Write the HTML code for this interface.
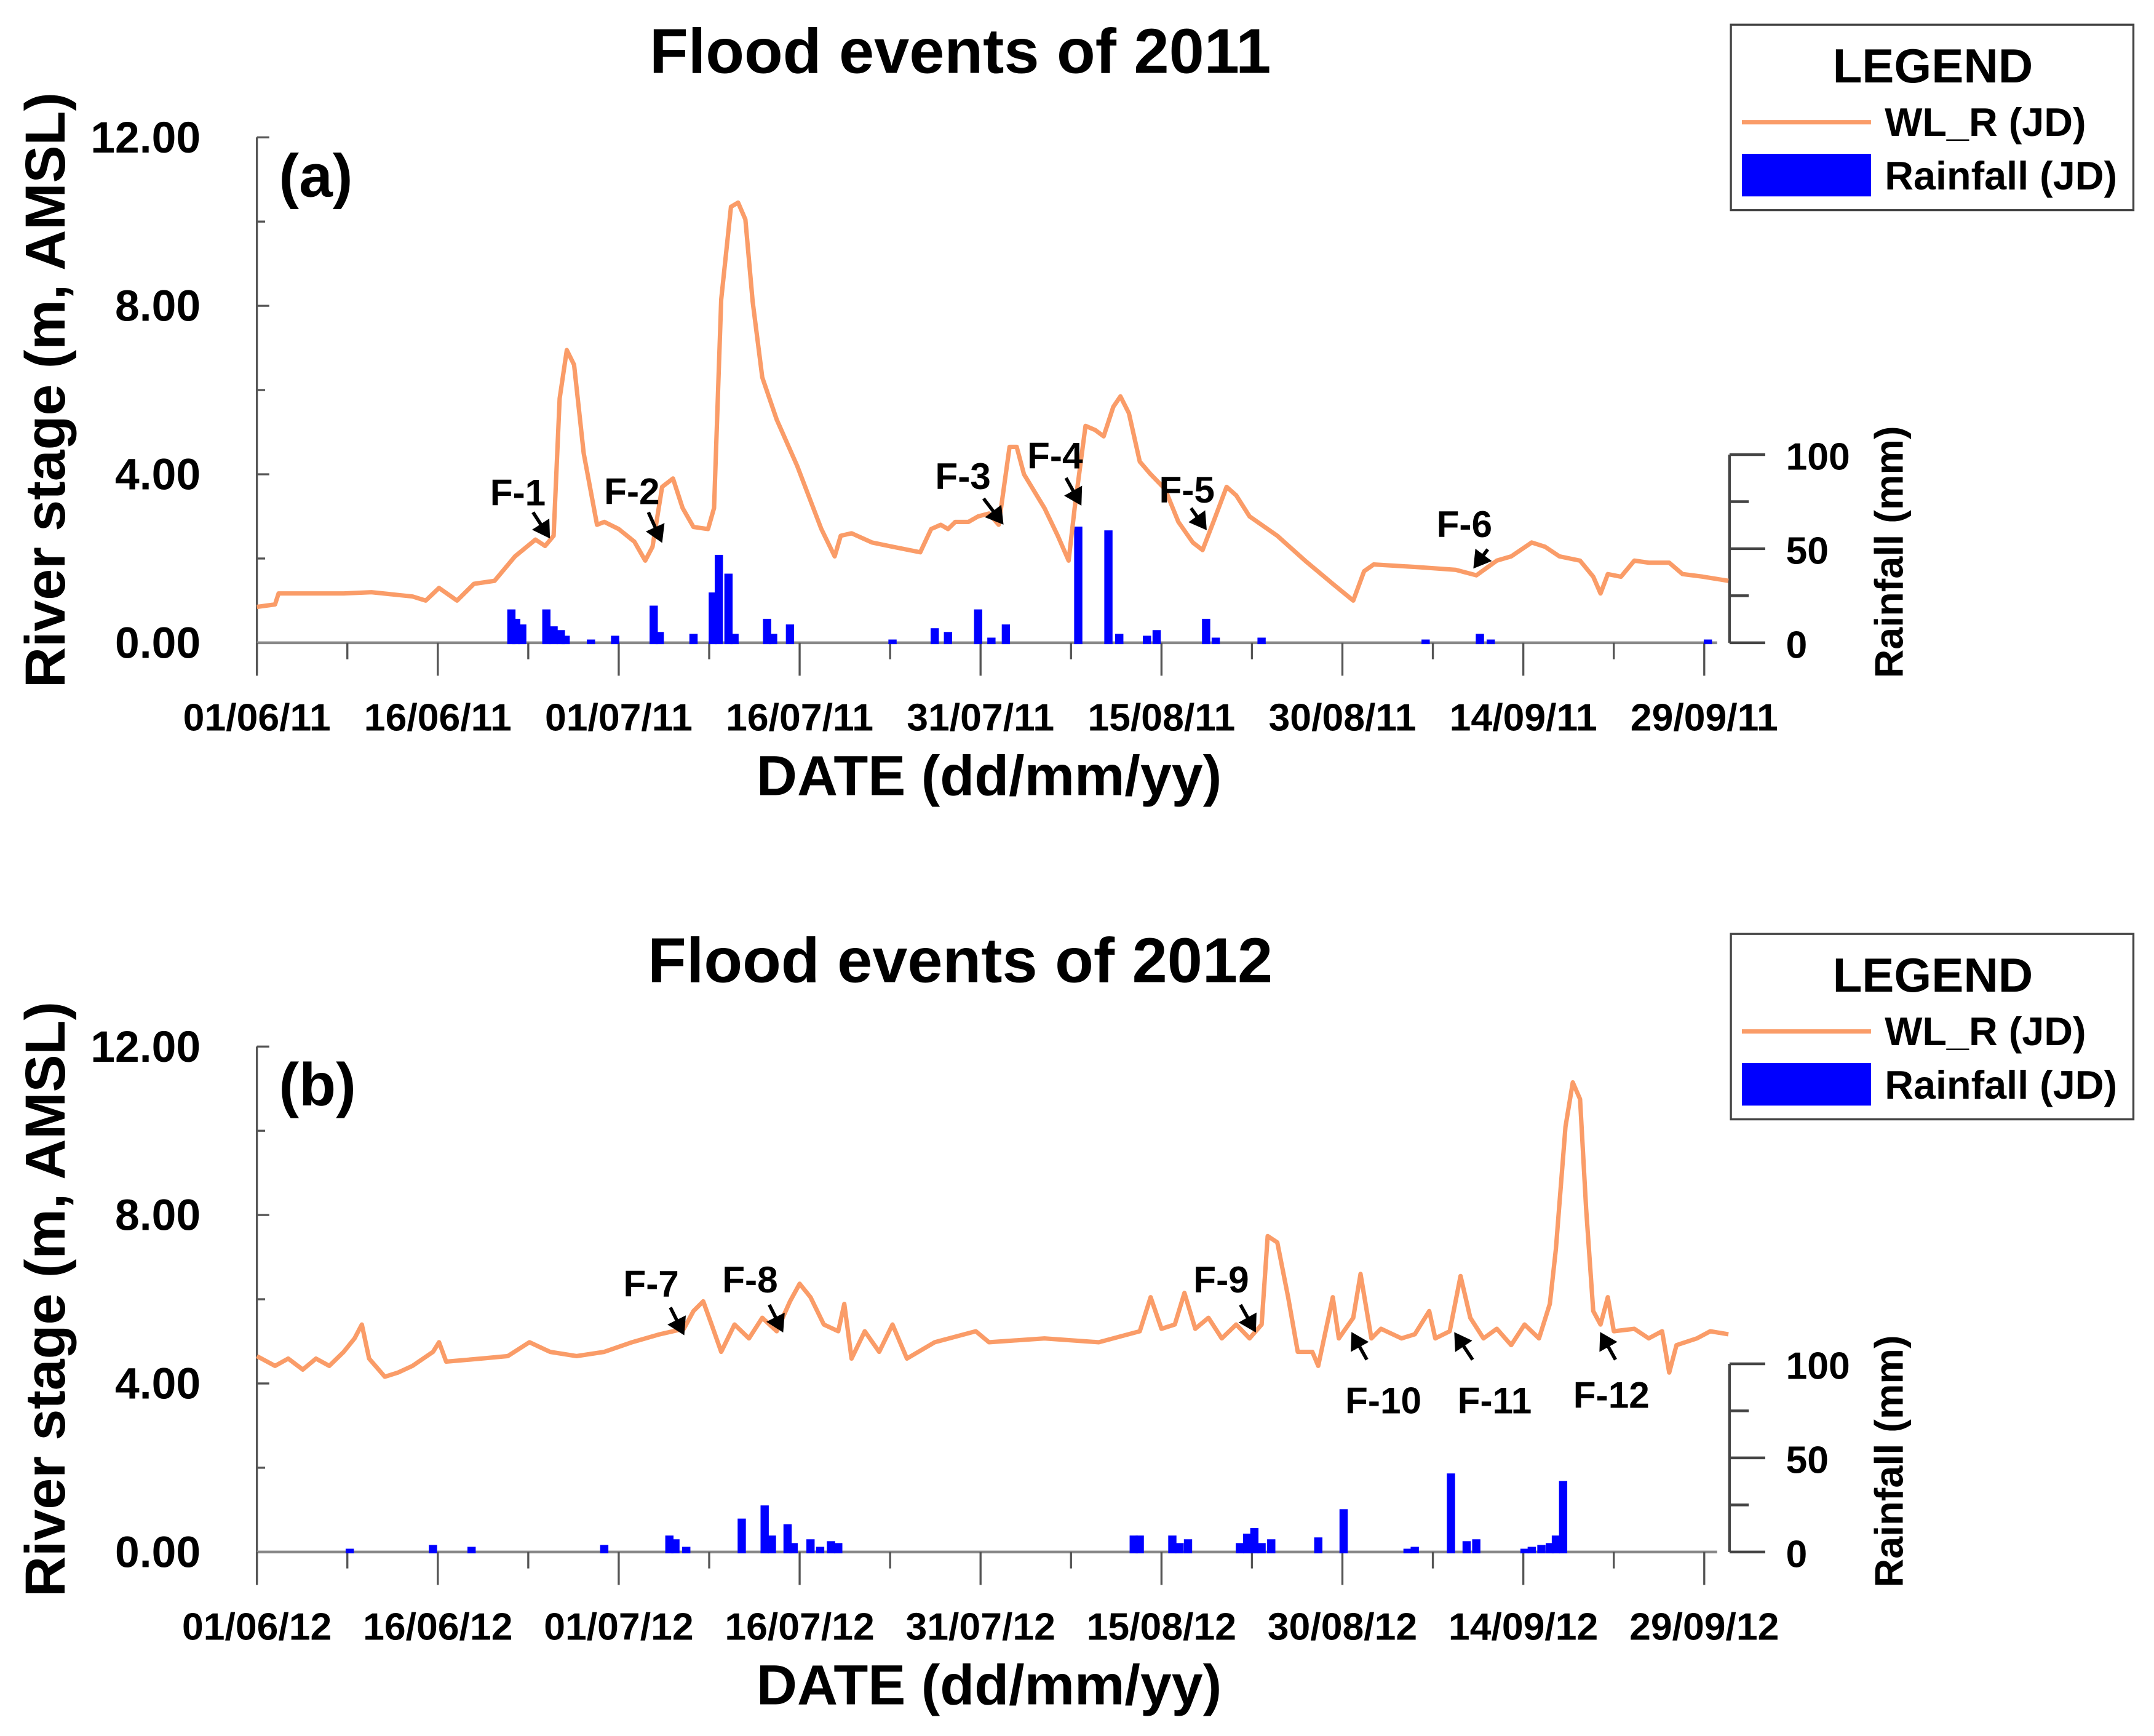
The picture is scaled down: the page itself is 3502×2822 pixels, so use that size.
<!DOCTYPE html>
<html><head><meta charset="utf-8"><style>
html,body{margin:0;padding:0;background:#fff}
svg{display:block}
text{font-family:"Liberation Sans",Arial,sans-serif;font-weight:bold;fill:#000}
</style></head><body>
<svg id="chart" xmlns="http://www.w3.org/2000/svg" width="3502" height="2822" viewBox="0 0 1568 1264" preserveAspectRatio="none"></svg>
<script>
// ---- data (day index from 1 June, value) ----
const dateLabels2011 = ["01/06/11","16/06/11","01/07/11","16/07/11","31/07/11","15/08/11","30/08/11","14/09/11","29/09/11"];
const dateLabels2012 = ["01/06/12","16/06/12","01/07/12","16/07/12","31/07/12","15/08/12","30/08/12","14/09/12","29/09/12"];
const stageTicks = ["0.00","4.00","8.00","12.00"];
const rainTicks = ["0","50","100"];

const wlDaysA = [0,1.5,1.8,7.2,9.5,12.9,14.0,15.1,16.6,18.0,19.7,21.4,23.1,23.9,24.6,25.1,25.7,26.3,27.1,28.2,28.8,30.0,31.3,32.2,32.8,33.6,34.5,35.3,36.2,37.4,37.9,38.5,39.3,39.9,40.5,41.1,41.9,43.1,44.8,46.8,47.9,48.4,49.3,51.0,52.7,55.0,55.9,56.7,57.3,57.9,59.0,59.8,60.7,61.5,62.4,63.0,63.6,65.3,66.4,67.3,67.8,68.7,69.5,70.2,71.0,71.6,72.3,73.2,74.1,75.3,76.4,77.6,78.4,79.3,80.4,81.2,82.3,84.6,86.9,89.2,90.9,91.8,92.6,96.0,99.4,101.1,102.8,104.0,105.7,106.8,108.0,109.7,110.8,111.4,112.0,113.1,114.2,115.4,117.1,118.2,119.9,122.0];
const wlValsA = [0.85,0.91,1.17,1.17,1.2,1.1,1.0,1.3,1.0,1.4,1.47,2.05,2.45,2.3,2.54,5.8,6.95,6.6,4.5,2.8,2.87,2.7,2.4,1.95,2.28,3.7,3.9,3.2,2.75,2.7,3.2,8.15,10.35,10.45,10.05,8.1,6.3,5.3,4.2,2.7,2.05,2.54,2.6,2.38,2.28,2.15,2.7,2.8,2.7,2.87,2.87,3.0,3.07,2.8,4.65,4.65,4.0,3.2,2.54,1.95,3.2,5.15,5.05,4.9,5.6,5.85,5.45,4.3,4.0,3.65,2.87,2.38,2.2,2.87,3.7,3.5,3.0,2.54,1.95,1.4,1.0,1.7,1.86,1.8,1.73,1.6,1.95,2.05,2.38,2.28,2.05,1.95,1.57,1.17,1.63,1.57,1.95,1.9,1.9,1.63,1.57,1.47];
const rainDaysA = [21.1,21.5,22.0,24.0,24.6,25.2,25.6,27.7,29.7,32.9,33.4,36.2,37.8,38.3,39.1,39.6,42.3,42.8,44.2,52.7,56.2,57.3,59.8,60.9,62.1,68.1,70.6,71.5,73.8,74.6,78.7,79.5,83.3,96.9,101.4,102.3,120.3];
const rainValsA = [17,12,9,17,8,6,3,1,3,19,5,4,26,46,36,4,12,4,9,1,7,5,17,2,9,61,59,4,3,6,12,2,2,1,4,1,1];

const wlDaysB = [0,1.5,2.6,3.8,4.9,6.0,7.2,8.1,8.7,9.3,10.6,11.7,12.9,14.6,15.1,15.7,18.6,20.8,22.6,24.3,26.5,28.8,31.1,33.4,35.4,36.2,37.0,37.7,38.5,39.6,40.8,41.9,43.1,44.2,45.0,45.9,47.0,48.2,48.7,49.3,50.4,51.6,52.7,53.9,56.2,59.6,60.7,65.3,69.8,73.2,74.1,75.0,76.1,76.9,77.8,78.9,80.0,81.2,82.3,83.3,83.8,84.6,85.5,86.3,87.5,88.0,89.2,89.7,90.9,91.5,92.4,93.2,94.9,96.0,97.2,97.7,98.9,99.8,100.6,101.7,102.8,104.0,105.1,106.3,107.2,107.7,108.5,109.1,109.7,110.2,110.8,111.4,112.0,112.5,114.2,115.4,116.5,117.1,117.7,119.4,120.5,122.0];
const wlValsB = [4.65,4.42,4.59,4.33,4.59,4.42,4.75,5.07,5.4,4.59,4.16,4.26,4.42,4.75,4.98,4.52,4.59,4.65,4.98,4.75,4.65,4.75,4.98,5.17,5.3,5.72,5.95,5.4,4.75,5.4,5.07,5.56,5.24,5.95,6.37,6.05,5.4,5.24,5.89,4.59,5.24,4.75,5.4,4.59,4.98,5.24,4.98,5.07,4.98,5.24,6.05,5.3,5.4,6.15,5.3,5.56,5.07,5.4,5.07,5.4,7.5,7.35,6.05,4.75,4.75,4.42,6.05,5.07,5.56,6.6,5.07,5.3,5.07,5.17,5.72,5.07,5.24,6.55,5.56,5.07,5.3,4.91,5.4,5.07,5.89,7.19,10.1,11.15,10.75,8.16,5.72,5.4,6.05,5.24,5.3,5.07,5.24,4.26,4.91,5.07,5.24,5.17];
const rainDaysB = [7.7,14.6,17.8,28.8,34.2,34.7,35.6,40.2,42.1,42.7,44.0,44.5,45.9,46.7,47.6,48.2,72.7,73.2,75.9,76.5,77.2,81.5,82.1,82.7,83.3,84.1,88.0,90.1,95.4,96.0,99.0,100.3,101.1,105.1,105.7,106.5,107.2,107.7,108.3];
const rainValsB = [1,3,2,3,8,6,2,17,24,8,14,4,6,2,5,4,8,8,8,4,6,4,9,12,4,6,7,22,1,2,41,5,6,1,2,3,4,8,37];

const eventsA = [["F-1",377,358,388,373,399,390],["F-2",460,357,472,373,481,393],["F-3",701,346,716,363,729,380],["F-4",768,331,776,348,786,366],["F-5",864,356,867,370,877,384],["F-6",1066,381,1083,400,1074,412]];
const eventsB = [["F-7",474,272,488,290,497,308],["F-8",546,269,560,288,569,306],["F-9",889,269,903,288,913,306],["F-10",1007,357,995,328,985,310],["F-11",1088,357,1072,328,1060,310],["F-12",1173,353,1176,328,1166,310]];

const NS="http://www.w3.org/2000/svg";
const svg=document.getElementById('chart');
const defs=document.createElementNS(NS,'defs');
defs.innerHTML='<marker id="ah" markerWidth="6" markerHeight="6" refX="4" refY="3" orient="auto" markerUnits="strokeWidth"><path d="M0,0 L5,3 L0,6 z" fill="#000"/></marker>';
svg.appendChild(defs);
function mk(tag,attrs,parent,txt){const e=document.createElementNS(NS,tag);for(const k in attrs)e.setAttribute(k,attrs[k]);if(txt!==undefined)e.textContent=txt;(parent||svg).appendChild(e);return e;}

function panel(off,title,letter,dates,wlD,wlV,rD,rV,events,tag){
  const g=mk('g',{});
  
  
  const X0=187,PX=8.78,Y0=468+off,Y12=100+off;
  const xs=d=>X0+d*PX;
  const ys=v=>Y0-(Y0-Y12)*v/12;
  const R100=331+off;
  const yr=v=>Y0-(Y0-R100)*v/100;
  const XR=1259;
  let t=mk('text',{x:699,y:53+off,'font-size':46,'text-anchor':'middle'},g,title);
  
  
  t=mk('text',{x:203,y:143+off,'font-size':44},g,letter);
  
  
  // left axis
  let a=mk('line',{x1:X0,y1:Y12,x2:X0,y2:Y0+22,stroke:'#555','stroke-width':1.5},g);
  
  
  for(let v=0;v<=12;v+=2){
    const major=v%4===0;
    mk('line',{x1:X0,y1:ys(v),x2:X0+(major?9:6),y2:ys(v),stroke:'#555','stroke-width':1.5},g);
  }
  stageTicks.forEach(s=>{
    const l=mk('text',{x:146,y:ys(parseFloat(s))+11,'font-size':32,'text-anchor':'end'},g,s);
    
    
  });
  const yt=mk('text',{transform:`translate(47,${284+off}) rotate(-90)`,'font-size':41,'text-anchor':'middle'},g,'River stage (m, AMSL)');
  
  
  // x axis
  a=mk('line',{x1:X0,y1:Y0,x2:1250,y2:Y0,stroke:'#888','stroke-width':2},g);
  
  
  for(let d=0;d<=120;d+=7.5){
    const major=(d%15===0);
    mk('line',{x1:xs(d),y1:Y0,x2:xs(d),y2:Y0+(major?24:12),stroke:'#555','stroke-width':1.5},g);
  }
  dates.forEach((s,i)=>{
    const l=mk('text',{x:xs(i*15),y:532+off,'font-size':28,'text-anchor':'middle'},g,s);
    
    
  });
  const xt=mk('text',{x:720,y:579+off,'font-size':41,'text-anchor':'middle'},g,'DATE (dd/mm/yy)');
  
  
  // right axis
  a=mk('line',{x1:XR,y1:R100,x2:XR,y2:Y0,stroke:'#444','stroke-width':2},g);
  
  
  for(let v=0;v<=100;v+=25){
    const major=v%50===0;
    mk('line',{x1:XR,y1:yr(v),x2:XR+(major?26:14),y2:yr(v),stroke:'#444','stroke-width':2},g);
  }
  rainTicks.forEach(s=>{
    const l=mk('text',{x:1300,y:yr(parseFloat(s))+11,'font-size':28},g,s);
    
    
  });
  const rt=mk('text',{transform:`translate(1385,${402+off}) rotate(-90)`,'font-size':29,'text-anchor':'middle'},g,'Rainfall (mm)');
  
  
  // rainfall bars
  rD.forEach((d,i)=>{
    const h=Y0-yr(rV[i]);
    const b=mk('rect',{x:xs(d)-3,y:yr(rV[i])-1,width:6,height:h+2,fill:'#0000ff'},g);
    
    
  });
  // water level line
  const pts=wlD.map((d,i)=>xs(d).toFixed(1)+','+ys(wlV[i]).toFixed(1)).join(' ');
  const ln=mk('polyline',{points:pts,fill:'none',stroke:'#fa9c68','stroke-width':3.2,'stroke-linejoin':'round'},g);
  
  
  // events
  events.forEach(e=>{
    const l=mk('text',{x:e[1],y:e[2]+off+10,'font-size':27,'text-anchor':'middle'},g,e[0]);
    
    
    const ar=mk('line',{x1:e[3],y1:e[4]+off,x2:e[5],y2:e[6]+off,stroke:'#000','stroke-width':2.5,'marker-end':'url(#ah)'},g);
    
    
  });
  // legend
  const lg=mk('g',{},g);
  
  
  mk('rect',{x:1260,y:18+off,width:293,height:135,fill:'#fff',stroke:'#444','stroke-width':1.5},lg);
  mk('text',{x:1407,y:60+off,'font-size':35,'text-anchor':'middle'},lg,'LEGEND');
  mk('line',{x1:1268,y1:89+off,x2:1362,y2:89+off,stroke:'#fa9c68','stroke-width':3.2},lg);
  mk('text',{x:1372,y:99+off,'font-size':29},lg,'WL_R (JD)');
  mk('rect',{x:1268,y:112+off,width:94,height:31,fill:'#0000ff'},lg);
  mk('text',{x:1372,y:138+off,'font-size':29},lg,'Rainfall (JD)');
}
panel(0,'Flood events of 2011','(a)',dateLabels2011,wlDaysA,wlValsA,rainDaysA,rainValsA,eventsA,'2011');
panel(662,'Flood events of 2012','(b)',dateLabels2012,wlDaysB,wlValsB,rainDaysB,rainValsB,eventsB,'2012');
</script>
</body></html>
